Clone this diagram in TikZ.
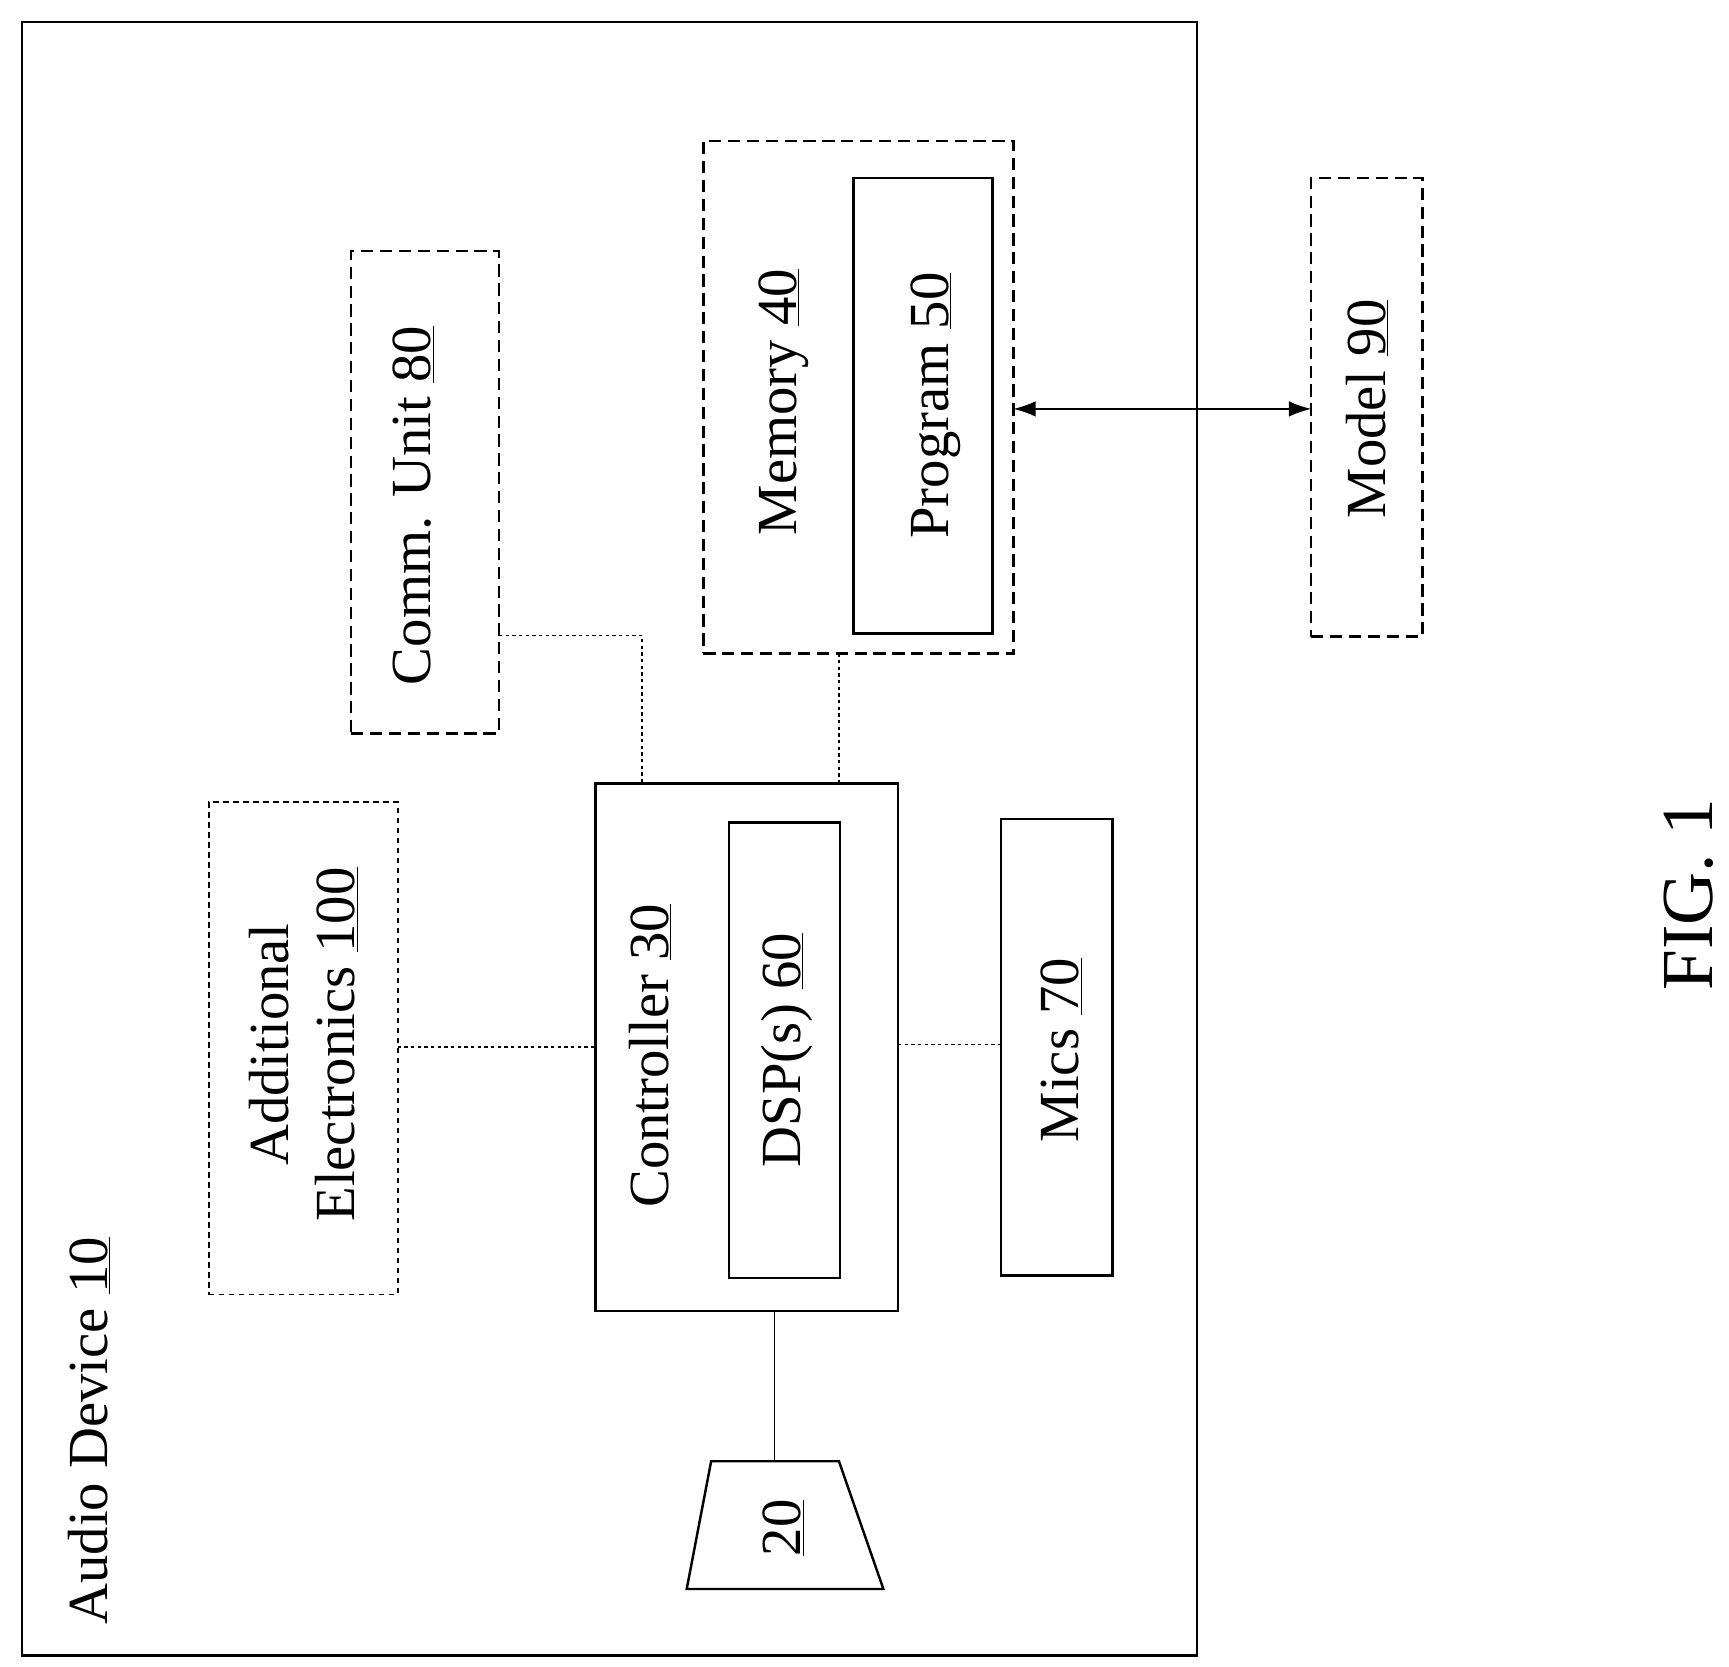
\documentclass[tikz,border=0pt]{standalone}
\usepackage{fontspec}
\setmainfont{Liberation Serif}
\usetikzlibrary{arrows.meta}
\begin{document}
\begin{tikzpicture}[x=1pt,y=-1pt,
  box/.style={draw,line width=2.2pt,inner sep=0,outer sep=0},
  dbox/.style={box,dash pattern=on 11pt off 6pt},
  dot/.style={line width=1.4pt,dash pattern=on 3pt off 3pt},
  lbl/.style={rotate=90,font=\fontsize{51}{60}\selectfont,inner sep=0,align=center}]
\useasboundingbox (0,0) rectangle (1556,1500);
\node[box,minimum width=1057pt,minimum height=1470pt] (dev) at (548.5,755) {};
\node[lbl,anchor=west] (devl) at (80,1462) {Audio Device \underline{10}};
\node[dbox,minimum width=279pt,minimum height=461pt] (mem) at (772.5,357.5) {};
\node[lbl] at (705,362) {Memory \underline{40}};
\node[box,minimum width=125pt,minimum height=410pt] (prog) at (830.5,365) {};
\node[lbl] at (842,365) {Program \underline{50}};
\node[dbox,minimum width=100pt,minimum height=413pt] (model) at (1230,366.5) {};
\node[lbl] at (1230,368) {Model \underline{90}};
\node[dbox,minimum width=133pt,minimum height=434pt] (comm) at (382.5,443) {};
\node[lbl] at (372,455) {Comm. Unit \underline{80}};
\node[box,minimum width=272pt,minimum height=475pt] (ctrl) at (672,942.5) {};
\node[lbl] at (585,950) {Controller \underline{30}};
\node[box,minimum width=100pt,minimum height=410pt] (dsp) at (706,945) {};
\node[lbl] at (708,945) {DSP(s) \underline{60}};
\node[dbox,line width=1.6pt,dash pattern=on 5pt off 4pt,minimum width=170pt,minimum height=443pt] (add) at (273,943.5) {};
\node[lbl] at (273,940) {Additional\\Electronics \underline{100}};
\node[box,minimum width=100pt,minimum height=411pt] (mics) at (951,942.5) {};
\node[lbl] at (955,945) {Mics \underline{70}};
\coordinate (s1) at (640,1315); \coordinate (s2) at (755,1315);
\coordinate (s3) at (795,1430); \coordinate (s4) at (618,1430);
\draw[line width=2.2pt] (s1)--(s2)--(s3)--(s4)--cycle;
\node[lbl] (spk) at (705,1375) {\underline{20}};
\draw[line width=1.4pt] (697,1180) -- (697,1315);
\draw[dot] (comm.east |- 0,572) -| (ctrl.north -| 578,0);
\draw[dot] (755,588) -- (755,705);
\draw[dot] (add.east |- 0,942) -- (ctrl.west |- 0,942);
\draw[dot] (ctrl.east |- 0,940) -- (mics.west |- 0,940);
\draw[line width=1.4pt,{Latex[length=20pt,width=14pt]}-{Latex[length=20pt,width=14pt]}] (mem.east |- 0,368) -- (model.west |- 0,368);
\node[rotate=90,font=\fontsize{66}{74}\selectfont] (fig) at (1520,805) {FIG. 1};
\end{tikzpicture}
\end{document}
